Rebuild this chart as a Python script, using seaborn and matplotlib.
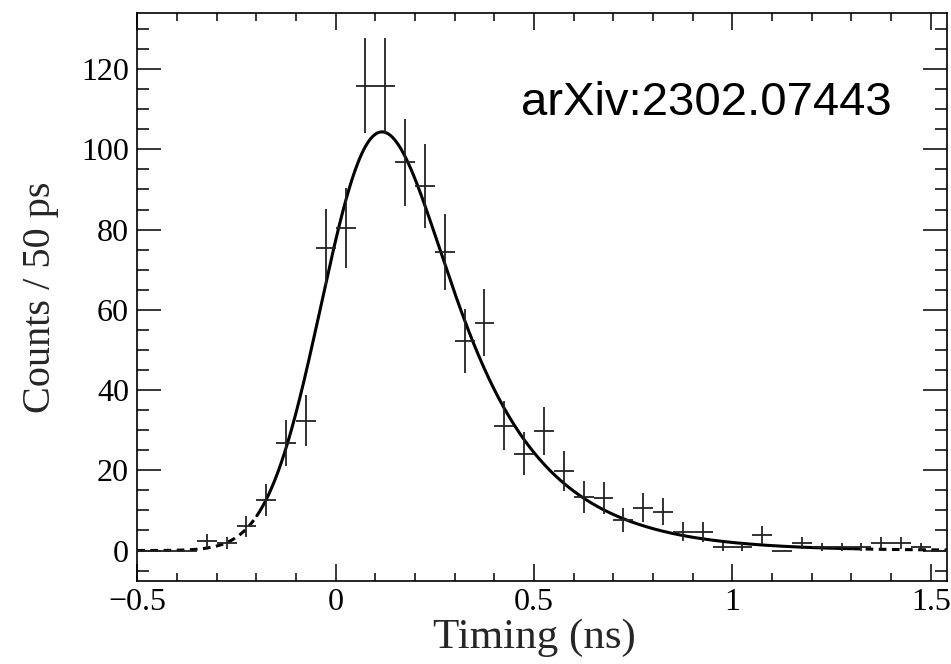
import math
import numpy as np
import pandas as pd
import matplotlib
matplotlib.use("Agg")
import matplotlib.pyplot as plt
import seaborn as sns

# ---------------- data ----------------
bin_centers = [-0.475, -0.425, -0.375, -0.325, -0.275, -0.225, -0.175, -0.125, -0.075, -0.025,
               0.025, 0.075, 0.125, 0.175, 0.225, 0.275, 0.325, 0.375, 0.425, 0.475,
               0.525, 0.575, 0.625, 0.675, 0.725, 0.775, 0.825, 0.875, 0.925, 0.975,
               1.025, 1.075, 1.125, 1.175, 1.225, 1.275, 1.325, 1.375, 1.425, 1.475, 1.525]
counts = [0.0, 0.0, 0.0, 2.3, 1.9, 6.0, 12.6, 26.8, 32.4, 75.5,
          80.4, 115.9, 115.9, 96.8, 90.9, 74.4, 52.3, 56.8, 31.1, 24.1,
          29.8, 19.8, 13.3, 13.2, 7.6, 10.7, 9.7, 4.7, 4.6, 0.8,
          0.8, 3.9, 0.0, 1.8, 0.8, 0.8, 0.8, 1.8, 1.8, 0.8, 0.0]
count_errors = [0.0, 0.0, 0.0, 1.7, 1.5, 2.7, 3.9, 5.7, 6.3, 9.6,
                9.9, 11.8, 11.8, 10.8, 10.5, 9.5, 8.0, 8.3, 6.1, 5.4,
                6.0, 4.9, 4.0, 4.0, 3.0, 3.6, 3.4, 2.4, 2.4, 1.0,
                1.0, 2.2, 0.0, 1.5, 1.0, 1.0, 1.0, 1.5, 1.5, 1.0, 0.0]
bin_half_width = 0.025

# fit model (Gaussian convolved with exponential) parameters
fit_norm = 968.0
fit_mu = 0.005
fit_sigma = 0.12
fit_tau = 0.20
fit_range = (-0.2, 1.3)

x_ticks = [-0.5, 0, 0.5, 1, 1.5]
x_tick_labels = ["\u22120.5", "0", "0.5", "1", "1.5"]
y_ticks = [0, 20, 40, 60, 80, 100, 120]
y_tick_labels = ["0", "20", "40", "60", "80", "100", "120"]
x_label = "Timing (ns)"
y_label = "Counts / 50 ps"
annotation = "arXiv:2302.07443"


def exgauss_counts(x):
    u = x - fit_mu
    pdf = (1.0 / (2 * fit_tau)) * math.exp(-u / fit_tau + fit_sigma ** 2 / (2 * fit_tau ** 2)) * \
        math.erfc((fit_sigma ** 2 / fit_tau - u) / (math.sqrt(2) * fit_sigma))
    return fit_norm * 2 * bin_half_width * pdf


# ---------------- style ----------------
sns.set_theme(style="ticks")
plt.rcParams["font.family"] = ["Liberation Serif", "DejaVu Serif"]
plt.rcParams["axes.linewidth"] = 1.2

fig = plt.figure(figsize=(9.51, 6.64), dpi=100)
ax = fig.add_axes([0.1444, 0.125, 0.8511, 0.8555])

# fit curve
xs = np.linspace(-0.5, 1.54, 800)
ys = np.array([exgauss_counts(v) for v in xs])
fit_df = pd.DataFrame({"x": xs, "y": ys})
inside = fit_df[(fit_df.x >= fit_range[0]) & (fit_df.x <= fit_range[1])]
left = fit_df[fit_df.x <= fit_range[0]]
right = fit_df[fit_df.x >= fit_range[1]]
sns.lineplot(data=inside, x="x", y="y", ax=ax, color="black", lw=2.2, sort=False, zorder=3)
for part in (left, right):
    sns.lineplot(data=part, x="x", y="y", ax=ax, color="black", lw=2.2, sort=False,
                 dashes=False, linestyle=(0, (2.5, 1.8)), zorder=3)

# data points with error bars
ax.errorbar(bin_centers, counts, xerr=bin_half_width, yerr=count_errors, fmt="none",
            ecolor="#222222", elinewidth=1.3, capsize=0, zorder=4)

ax.set_xlim(-0.5, 1.54)
ax.set_ylim(-7.6, 134)
ax.set_xticks(x_ticks)
ax.set_xticklabels(x_tick_labels)
ax.set_yticks(y_ticks)
ax.set_yticklabels(y_tick_labels)
ax.set_xticks(np.arange(-0.5, 1.541, 0.1), minor=True)
ax.set_yticks(np.arange(-5, 134, 5), minor=True)

ax.tick_params(axis="both", which="both", direction="in", top=True, right=True,
               colors="black", width=1.1)
ax.tick_params(axis="x", which="major", length=12.2, pad=5, labelsize=23)
ax.tick_params(axis="x", which="minor", length=6.1)
ax.tick_params(axis="y", which="major", length=17.5, pad=6, labelsize=23)
ax.tick_params(axis="y", which="minor", length=8.7)

ax.set_xlabel(x_label, fontsize=31)
ax.xaxis.set_label_coords(0.491, -0.066)
ax.xaxis.label.set_va("top")
ax.set_ylabel(y_label, fontsize=29, labelpad=16)
for s in ax.spines.values():
    s.set_color("black")

ax.text(0.467, 108.5, annotation, fontsize=34, family=["Liberation Sans", "DejaVu Sans"],
        ha="left", va="baseline", color="black")

fig.savefig("out.png", dpi=100)
